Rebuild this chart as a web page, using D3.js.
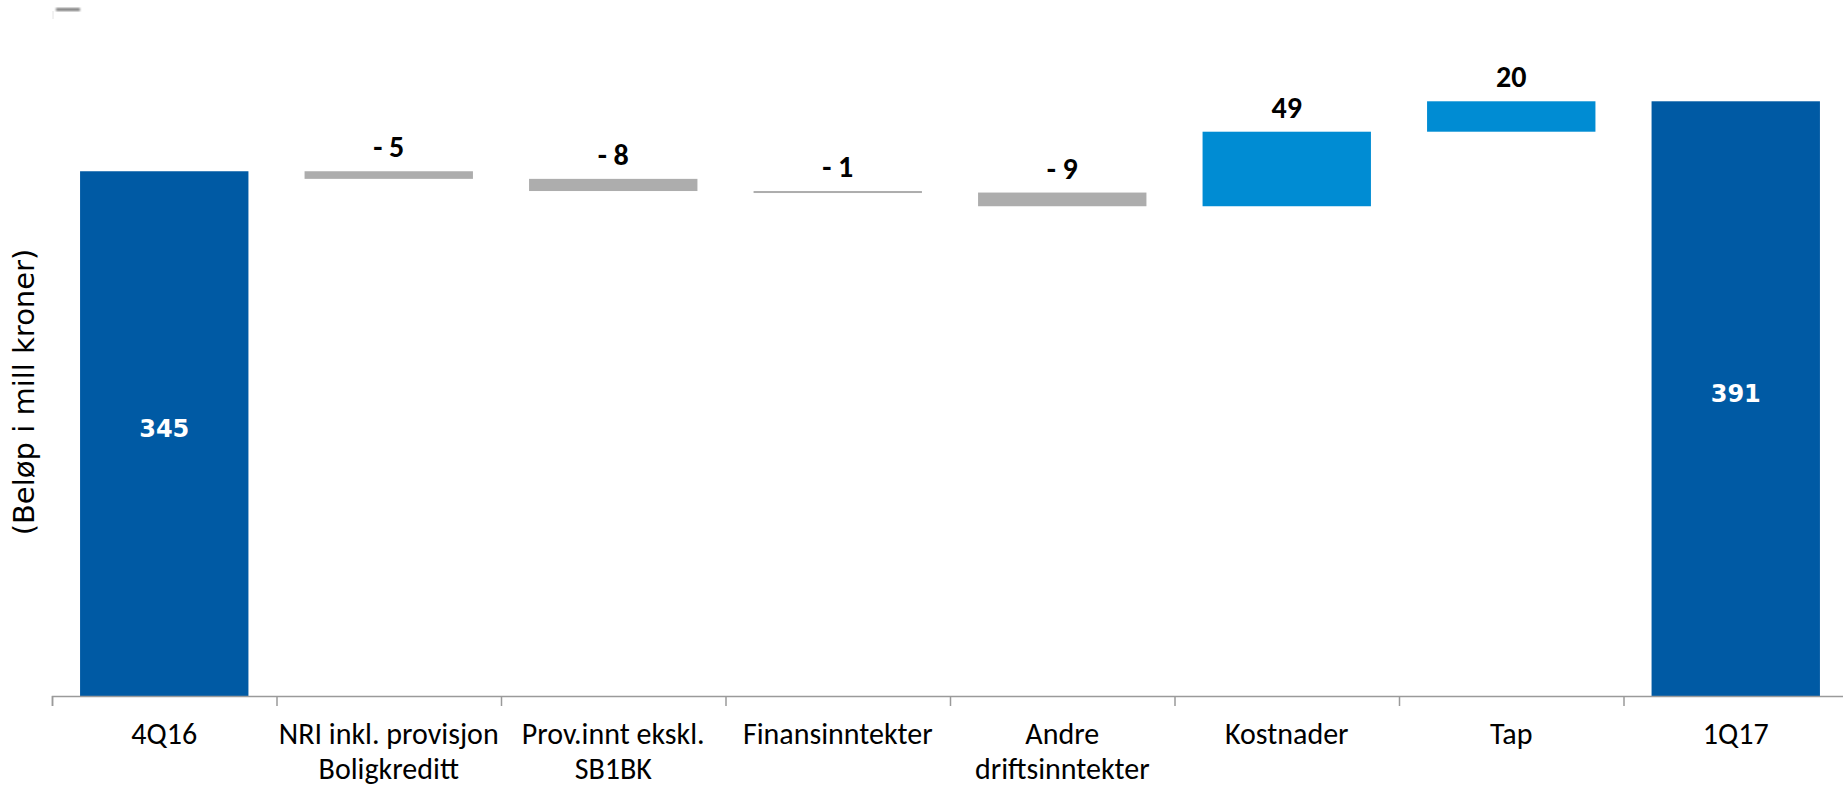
<!DOCTYPE html>
<html>
<head>
<meta charset="utf-8">
<script src="https://cdn.jsdelivr.net/npm/d3@7"></script>
<style>
  body { margin: 0; background: #fff; }
  svg { display: block; }
</style>
</head>
<body>
<div id="chart"></div>
<script>
// categories (line breaks as in the original axis)
var categories = [
    '4Q16',
    'NRI inkl. provisjon\nBoligkreditt',
    'Prov.innt ekskl.\nSB1BK',
    'Finansinntekter',
    'Andre\ndriftsinntekter',
    'Kostnader',
    'Tap',
    '1Q17'
];
var startValue = 345;
var endValue = 391;
var changes = [-5, -8, -1, -9, 49, 20];
var yDomain = [0, 400];

var width = 1843, height = 789;
var axisY = 696;

var svg = d3.select('#chart').append('svg')
    .attr('width', width)
    .attr('height', height);

// build waterfall steps
var steps = [];
var running = startValue;
steps.push({cat: categories[0], y0: 0, y1: startValue, kind: 'total', label: String(startValue)});
changes.forEach(function(c, i) {
    var from = running;
    running += c;
    steps.push({
        cat: categories[i + 1],
        y0: Math.min(from, running),
        y1: Math.max(from, running),
        kind: c < 0 ? 'down' : 'up',
        label: c < 0 ? '- ' + Math.abs(c) : String(c)
    });
});
steps.push({cat: categories[7], y0: 0, y1: endValue, kind: 'total', label: String(endValue)});

var x = d3.scaleBand()
    .domain(categories)
    .range([52, 1848])
    .paddingInner(0.25)
    .paddingOuter(0.125);

var y = d3.scaleLinear()
    .domain(yDomain)
    .range([axisY, axisY - 400 * 1.521]);

var colors = {total: '#005AA4', up: '#008CD3', down: '#ADADAD'};

// bars
svg.selectAll('rect.bar')
    .data(steps)
    .enter()
    .append('rect')
    .attr('class', 'bar')
    .attr('x', function(d) { return x(d.cat); })
    .attr('width', x.bandwidth())
    .attr('y', function(d) { return y(d.y1); })
    .attr('height', function(d) { return Math.max(2, y(d.y0) - y(d.y1)); })
    .style('fill', function(d) { return colors[d.kind]; });

// labels inside total bars
svg.selectAll('text.total')
    .data(steps.filter(function(d) { return d.kind == 'total'; }))
    .enter()
    .append('text')
    .attr('class', 'total')
    .attr('x', function(d) { return x(d.cat) + x.bandwidth() / 2; })
    .attr('y', function(d) { return (y(d.y0) + y(d.y1)) / 2 + 3; })
    .attr('text-anchor', 'middle')
    .style('font-family', '"DejaVu Sans", Verdana, sans-serif')
    .style('font-weight', 'bold')
    .style('font-size', '24px')
    .style('fill', '#fff')
    .text(function(d) { return d.label; });

// labels above change bars
svg.selectAll('text.change')
    .data(steps.filter(function(d) { return d.kind != 'total'; }))
    .enter()
    .append('text')
    .attr('class', 'change')
    .attr('x', function(d) { return x(d.cat) + x.bandwidth() / 2; })
    .attr('y', function(d) { return y(d.y1) - 14; })
    .attr('text-anchor', 'middle')
    .style('font-family', 'Carlito, "Liberation Sans Narrow", "Liberation Sans", Arial, sans-serif')
    .style('font-weight', 'bold')
    .style('font-size', '30px')
    .style('fill', '#000')
    .text(function(d) { return d.label; });

// x axis: boundary ticks between categories
var edges = d3.scaleLinear().domain([0, categories.length]).range(x.range());
var axis = svg.append('g')
    .attr('transform', 'translate(0,' + axisY + ')')
    .call(d3.axisBottom(edges)
        .tickValues(d3.range(categories.length + 1))
        .tickFormat('')
        .tickSize(10)
        .tickSizeOuter(10));
axis.selectAll('path, line').attr('stroke', '#9A9A9A').attr('stroke-width', 1.5);

// category labels
var catLabels = svg.selectAll('text.cat')
    .data(categories)
    .enter()
    .append('text')
    .attr('class', 'cat')
    .attr('text-anchor', 'middle')
    .attr('transform', function(d) { return 'translate(' + (x(d) + x.bandwidth() / 2) + ',744)'; })
    .style('font-family', 'Carlito, "Liberation Sans Narrow", "Liberation Sans", Arial, sans-serif')
    .style('font-size', '30px')
    .style('fill', '#000');

catLabels.each(function(d) {
    var lines = d.split('\n');
    var t = d3.select(this);
    lines.forEach(function(line, i) {
        t.append('tspan')
            .attr('x', 0)
            .attr('y', i * 35)
            .text(line);
    });
});

// y axis title
svg.append('text')
    .attr('transform', 'translate(34,392) rotate(-90)')
    .attr('text-anchor', 'middle')
    .style('font-family', '"DejaVu Sans", Verdana, sans-serif')
    .style('font-size', '29px')
    .style('fill', '#000')
    .text('(Beløp i mill kroner)');

// small grey smudge at the top left of the original slide
var defs = svg.append('defs');
defs.append('filter').attr('id', 'blur')
    .append('feGaussianBlur').attr('stdDeviation', 1.2);
svg.append('rect')
    .attr('x', 56).attr('y', 8).attr('width', 24).attr('height', 3)
    .style('fill', '#777')
    .attr('filter', 'url(#blur)');
svg.append('line')
    .attr('x1', 53).attr('x2', 53).attr('y1', 11).attr('y2', 19)
    .attr('stroke', '#e4e4e4');
</script>
</body>
</html>
